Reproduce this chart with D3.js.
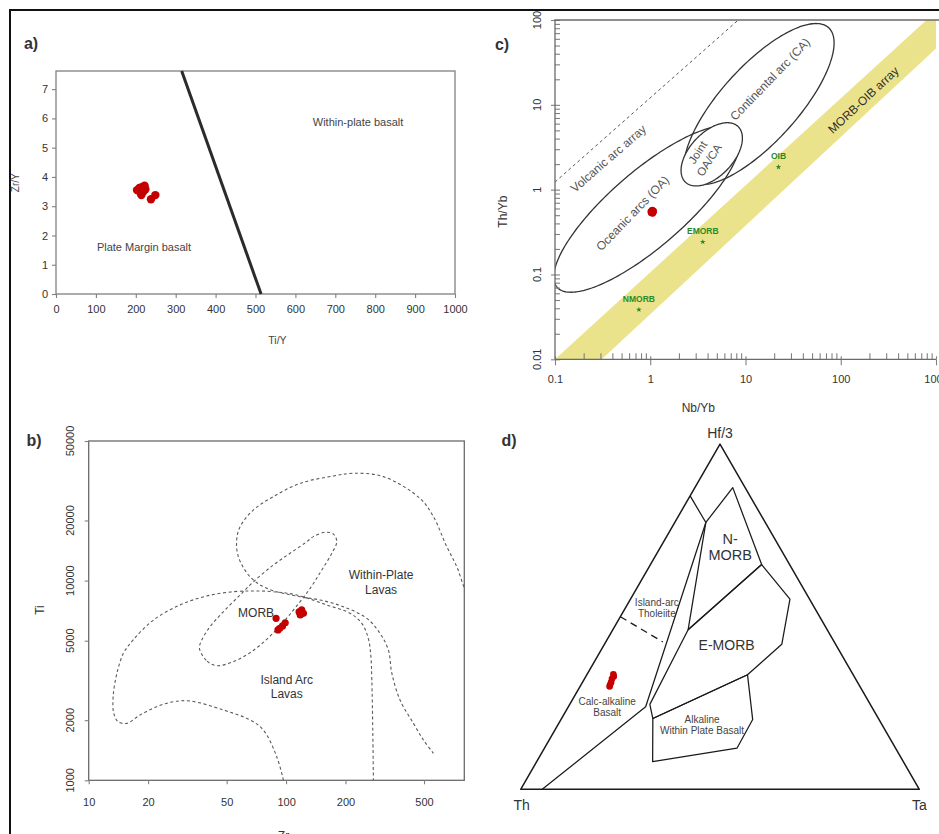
<!DOCTYPE html>
<html>
<head>
<meta charset="utf-8">
<script src="https://cdn.jsdelivr.net/npm/d3@7/dist/d3.min.js"></script>
<style>
  body { margin: 0; background: #fff; }
  svg { display: block; }
  text { font-family: "Liberation Sans", Arial, Helvetica, sans-serif; }
</style>
</head>
<body>
<svg id="fig" width="939" height="834"></svg>
<script>
// ================= data =================

// a) Ti/Y vs Zr/Y discrimination
const aTiYTicks = [0, 100, 200, 300, 400, 500, 600, 700, 800, 900, 1000];
const aZrYTicks = [0, 1, 2, 3, 4, 5, 6, 7];
const aBoundary = [[315, 7.62], [514, 0]];               // [Ti/Y, Zr/Y]
const aSampleTiY = [203, 209, 216, 222, 224, 212, 219, 214, 238, 249];
const aSampleZrY = [3.55, 3.62, 3.66, 3.70, 3.58, 3.45, 3.50, 3.38, 3.24, 3.38];

// b) Zr vs Ti (log-log)
const bZrTicks = [10, 20, 50, 100, 200, 500];
const bTiTicks = [1000, 2000, 5000, 10000, 20000, 50000];
const bWithinPlate = [                                      // [Zr, Ti]
  [850, 8300], [802, 9150], [733, 11740], [652, 14780], [558, 20900], [477, 25800],
  [311, 33150], [219, 34450], [174, 33400], [118, 30700], [86, 26300], [68.2, 22550],
  [58.5, 18620], [56.2, 15960], [57.3, 13180], [65.7, 10450], [79.8, 9150],
  [117.8, 8300], [148.7, 8000], [195, 7400], [256.5, 6470], [299, 5450], [330, 4490],
  [343.5, 3436], [378, 2523], [442, 1928], [496.5, 1592], [558, 1365]
];
const bIslandArc = [
  [97, 1000], [89.7, 1313], [76.7, 1786], [65.7, 2004], [48.1, 2250], [32.6, 2495],
  [26.9, 2475], [22.1, 2337], [18.2, 2123], [15.6, 1928], [14.1, 1965], [13.4, 2163],
  [13.3, 2624], [13.9, 3436], [15.0, 4325], [16.8, 5045], [21.3, 6350], [29.0, 7550],
  [39.6, 8370], [54.1, 8800], [68.3, 8870], [86.2, 8800], [113.3, 8470], [160.8, 7550],
  [211, 6860], [242, 6110], [261, 5140], [269, 4160], [272, 3180], [275, 1786], [277, 1000]
];
const bMorb = [
  [36.4, 4580], [39.8, 3950], [44.5, 3750], [54.1, 3926], [65.7, 4355], [79.8, 5080],
  [95.1, 6070], [113.3, 7470], [132.4, 9140], [151.7, 11300], [170.6, 13700],
  [180.7, 15660], [173.8, 17100], [157.8, 17460], [137.5, 16600], [127.4, 15660],
  [104.8, 13700], [86.2, 11970], [68.3, 9860], [58.5, 8470], [48.1, 6980],
  [41.2, 5880], [37.4, 5040]
];
const bSampleZr = [89, 99, 96, 93, 91, 118, 120, 122.5, 116.4];
const bSampleTi = [6470, 6150, 5930, 5770, 5660, 6730, 7130, 6860, 6970];

// c) Nb/Yb vs Th/Yb (log-log)
const cXTicks = [0.1, 1, 10, 100, 1000];
const cXLabels = ["0.1", "1", "10", "100", "1000"];
const cYTicks = [0.01, 0.1, 1, 10, 100];
const cYLabels = ["0.01", "0.1", "1", "10", "100"];
const cMorbOibArray = [[0.1, 0.01], [795, 100], [1000, 100], [1000, 46], [0.31, 0.01]];
const cVolcanicArc = [[0.1, 1.23], [8.4, 100]];
// fields as ellipses in log space: centre [Nb/Yb, Th/Yb], semi-axes in decades, rotation in degrees
const cOceanicArcs = { centre: [0.925, 0.589], a: 1.32, b: 0.42, angle: 45 };
const cContinentalArc = { centre: [13.9, 10.2], a: 1.16, b: 0.42, angle: 52 };
const cJointField = { centre: [4.42, 2.61], a: 0.43, b: 0.24, angle: 53 };
const cRefNames = ["NMORB", "EMORB", "OIB"];
const cRefNbYb = [0.76, 3.56, 22.2];
const cRefThYb = [0.0385, 0.242, 1.85];
const cSampleNbYb = [1.02, 1.05, 1.08, 1.06, 1.03, 1.07];
const cSampleThYb = [0.55, 0.57, 0.56, 0.53, 0.535, 0.545];

// d) Th - Hf/3 - Ta ternary, components [Th, Hf/3, Ta]
const dNmorbField = [[14.9, 77.3, 7.8], [3.1, 87.4, 9.5], [7.0, 65.1, 27.9], [34.9, 46.2, 18.9], [14.9, 77.3, 7.8]];
const dEmorbField = [[34.9, 46.2, 18.9], [7.0, 65.1, 27.9], [4.9, 55.1, 40.0], [13.5, 42.0, 44.5],
                     [26.5, 33.2, 40.3], [56.6, 20.5, 22.9], [55.3, 24.6, 20.1], [34.9, 46.2, 18.9]];
const dAlkalineField = [[56.6, 20.5, 22.9], [26.5, 33.2, 40.3], [31.7, 20.2, 48.1], [39.8, 11.9, 48.3],
                        [62.9, 8.0, 29.1], [56.6, 20.5, 22.9]];
const dArcBoundary = [[15, 85, 0], [14.9, 77.3, 7.8], [56.7, 23.9, 19.4], [94.6, 0, 5.4]];
const dIatCabDivide = [[50, 50, 0], [43, 42.7, 14.3]];
const dSamples = [[60.1, 33.3, 6.6], [60.3, 32.7, 7.0], [61.1, 32.0, 6.9], [61.9, 31.0, 7.2],
                  [62.5, 30.2, 7.3], [62.8, 29.8, 7.4]];

// ================= drawing =================
const svg = d3.select("#fig");
const INK = "#333";
const GREY = "#555";
const AXIS = "#808080";
const RED = "#c40000";

function styleAxis(g, size) {
  g.selectAll(".domain").remove();
  g.selectAll(".tick line").attr("stroke", AXIS).attr("stroke-width", 1.1);
  g.selectAll(".tick text").attr("fill", INK).style("font-size", (size || 11) + "px")
    .style("font-family", '"Liberation Sans", Arial, sans-serif');
}

function label(g, px, py, lines, opt) {
  const t = g.append("text")
    .attr("transform", `translate(${px},${py}) rotate(${opt.rotate || 0})`)
    .attr("text-anchor", opt.anchor || "middle")
    .attr("fill", opt.color || INK)
    .style("font-size", opt.size + "px")
    .style("font-weight", opt.weight || "normal");
  const n = lines.length, sp = opt.spacing || opt.size * 1.2;
  lines.forEach((s, i) => t.append("tspan").attr("x", 0)
    .attr("y", (i - (n - 1) / 2) * sp).attr("dy", "0.35em").text(s));
  return t;
}

// outer frame of the figure
svg.append("path").attr("d", "M10,834V10H939").attr("fill", "none")
  .attr("stroke", "#111").attr("stroke-width", 2);

// ---------- a) ----------
{
  const x = d3.scaleLinear().domain([0, 1000]).range([56, 455]);
  const y = d3.scaleLinear().domain([0, 7.62]).range([294, 71]);
  const g = svg.append("g");
  g.append("rect").attr("x", x(0)).attr("y", y(7.62)).attr("width", x(1000) - x(0))
    .attr("height", y(0) - y(7.62)).attr("fill", "none").attr("stroke", AXIS).attr("stroke-width", 1.3);
  g.append("g").attr("transform", `translate(0,${y(0)})`)
    .call(d3.axisBottom(x).tickValues(aTiYTicks).tickSize(4).tickPadding(7).tickFormat(d3.format("d")))
    .call(styleAxis);
  g.append("g").attr("transform", `translate(${x(0)},0)`)
    .call(d3.axisLeft(y).tickValues(aZrYTicks).tickSize(4).tickPadding(4)).call(styleAxis);
  g.append("line")
    .attr("x1", x(aBoundary[0][0])).attr("y1", y(aBoundary[0][1]))
    .attr("x2", x(aBoundary[1][0])).attr("y2", y(aBoundary[1][1]))
    .attr("stroke", "#2b2b2b").attr("stroke-width", 3);
  g.selectAll("circle.s").data(aSampleTiY).join("circle")
    .attr("cx", d => x(d)).attr("cy", (d, i) => y(aSampleZrY[i])).attr("r", 4.2).attr("fill", RED);
  label(g, x(757), y(5.88), ["Within-plate basalt"], { size: 11, color: "#444" });
  label(g, x(220.5), y(1.61), ["Plate Margin basalt"], { size: 11, color: "#444" });
  label(g, x(555), 340, ["Ti/Y"], { size: 10.5, color: "#444" });
  label(g, 15, y(3.8), ["Zr/Y"], { size: 10, color: "#444", rotate: -90 });
  label(g, 31, 43, ["a)"], { size: 16, weight: "bold" });
}

// ---------- b) ----------
{
  const x = d3.scaleLog().domain([10, 800]).range([88.7, 464.3]);
  const y = d3.scaleLog().domain([1000, 50000]).range([780.3, 441]);
  const g = svg.append("g");
  svg.append("clipPath").attr("id", "clipB").append("rect")
    .attr("x", x(10)).attr("y", y(50000)).attr("width", x(800) - x(10)).attr("height", y(1000) - y(50000));
  g.append("rect").attr("x", x(10)).attr("y", y(50000)).attr("width", x(800) - x(10))
    .attr("height", y(1000) - y(50000)).attr("fill", "none").attr("stroke", "#6a6a6a").attr("stroke-width", 1.3);
  g.append("g").attr("transform", `translate(0,${y(1000)})`)
    .call(d3.axisBottom(x).tickValues(bZrTicks).tickSize(4).tickPadding(14).tickFormat(d3.format("d")))
    .call(styleAxis);
  g.append("g").attr("transform", `translate(${x(10)},0)`)
    .call(d3.axisLeft(y).tickValues(bTiTicks).tickSize(4).tickFormat(""))
    .call(styleAxis);
  bTiTicks.forEach(v => label(g, 70, y(v), [String(v)], { size: 11, rotate: -90 }));

  const line = d3.line().x(d => x(d[0])).y(d => y(d[1])).curve(d3.curveCatmullRom.alpha(0.5));
  const closed = d3.line().x(d => x(d[0])).y(d => y(d[1])).curve(d3.curveCatmullRomClosed.alpha(0.5));
  const fields = g.append("g").attr("clip-path", "url(#clipB)")
    .attr("fill", "none").attr("stroke", "#5a5a5a").attr("stroke-width", 1.1).attr("stroke-dasharray", "3,2.6");
  fields.append("path").attr("d", line(bWithinPlate));
  fields.append("path").attr("d", line(bIslandArc));
  fields.append("path").attr("d", closed(bMorb));

  label(g, x(303), y(9800), ["Within-Plate", "Lavas"], { size: 12, spacing: 14.5 });
  label(g, x(70.5), y(6900), ["MORB"], { size: 12 });
  label(g, x(100.8), y(2940), ["Island Arc", "Lavas"], { size: 12, spacing: 14.5 });

  g.selectAll("circle.s").data(bSampleZr).join("circle")
    .attr("cx", d => x(d)).attr("cy", (d, i) => y(bSampleTi[i])).attr("r", 3.6).attr("fill", RED);

  label(g, 40, 610, ["Ti"], { size: 12, rotate: -90 });
  label(g, x(97), 836, ["Zr"], { size: 12 });
  label(g, 34, 440, ["b)"], { size: 16, weight: "bold" });
}

// ---------- c) ----------
{
  const x = d3.scaleLog().domain([0.1, 1000]).range([555, 936]);
  const y = d3.scaleLog().domain([0.01, 100]).range([359.3, 20]);
  const g = svg.append("g");
  svg.append("clipPath").attr("id", "clipC").append("rect")
    .attr("x", x(0.1)).attr("y", y(100)).attr("width", x(1000) - x(0.1)).attr("height", y(0.01) - y(100));
  const plot = g.append("g").attr("clip-path", "url(#clipC)");

  const poly = d3.line().x(d => x(d[0])).y(d => y(d[1]));
  plot.append("path").attr("d", poly(cMorbOibArray) + "Z").attr("fill", "#ebe38c");
  plot.append("path").attr("d", poly(cVolcanicArc)).attr("fill", "none")
    .attr("stroke", "#555").attr("stroke-width", 1).attr("stroke-dasharray", "3,3");

  function ellipse(e) {
    const cu = Math.log10(e.centre[0]), cv = Math.log10(e.centre[1]);
    const th = e.angle * Math.PI / 180, pts = [];
    for (let k = 0; k < 180; k++) {
      const t = 2 * Math.PI * k / 180;
      const u = cu + e.a * Math.cos(t) * Math.cos(th) - e.b * Math.sin(t) * Math.sin(th);
      const v = cv + e.a * Math.cos(t) * Math.sin(th) + e.b * Math.sin(t) * Math.cos(th);
      pts.push([Math.pow(10, u), Math.pow(10, v)]);
    }
    return poly(pts) + "Z";
  }
  [cOceanicArcs, cContinentalArc].forEach(e =>
    plot.append("path").attr("d", ellipse(e)).attr("fill", "none")
      .attr("stroke", "#333").attr("stroke-width", 1.3));
  plot.append("path").attr("d", ellipse(cJointField)).attr("fill", "#fff")
    .attr("stroke", "#333").attr("stroke-width", 1.3);

  label(plot, x(0.363), y(2.33), ["Volcanic arc array"], { size: 12, rotate: -41, color: GREY });
  label(plot, x(0.652), y(0.528), ["Oceanic arcs (OA)"], { size: 12, rotate: -46, color: GREY });
  label(plot, x(18.1), y(20.1), ["Continental arc (CA)"], { size: 12, rotate: -46, color: GREY });
  label(plot, x(3.15), y(2.75), ["Joint"], { size: 11.5, rotate: -57, color: GREY });
  label(plot, x(4.14), y(2.23), ["OA/CA"], { size: 11.5, rotate: -57, color: GREY });
  label(plot, x(172.6), y(11.4), ["MORB-OIB array"], { size: 12, rotate: -43, color: "#2e2e2e" });

  const star = d3.symbol().type(d3.symbolStar).size(10);
  cRefNames.forEach((n, i) => {
    plot.append("path").attr("d", star)
      .attr("transform", `translate(${x(cRefNbYb[i])},${y(cRefThYb[i])})`).attr("fill", "#2a8a2a");
    label(plot, x(cRefNbYb[i]), y(cRefThYb[i]) - 11, [n], { size: 8.5, weight: "bold", color: "#2a8a2a" });
  });
  plot.selectAll("circle.s").data(cSampleNbYb).join("circle")
    .attr("cx", d => x(d)).attr("cy", (d, i) => y(cSampleThYb[i])).attr("r", 3.6).attr("fill", RED);

  // axes: major ticks cross the axis line, minor ticks point inward
  const minorX = [], minorY = [];
  [0.1, 1, 10, 100].forEach(dec => [2, 3, 4, 5, 6, 7, 8, 9].forEach(m => minorX.push(dec * m)));
  [0.01, 0.1, 1, 10].forEach(dec => [2, 3, 4, 5, 6, 7, 8, 9].forEach(m => minorY.push(dec * m)));
  const bx = g.append("g").attr("transform", `translate(0,${y(0.01)})`);
  bx.append("g").call(d3.axisBottom(x).tickValues(cXTicks).tickSize(6).tickPadding(10)
    .tickFormat((d, i) => cXLabels[i])).call(styleAxis);
  bx.append("g").call(d3.axisBottom(x).tickValues(cXTicks).tickSize(-3).tickFormat("")).call(styleAxis);
  bx.append("g").call(d3.axisBottom(x).tickValues(minorX).tickSize(-6).tickFormat("")).call(styleAxis);
  const ly = g.append("g").attr("transform", `translate(${x(0.1)},0)`);
  ly.append("g").call(d3.axisLeft(y).tickValues(cYTicks).tickSize(4).tickFormat("")).call(styleAxis);
  ly.append("g").call(d3.axisLeft(y).tickValues(cYTicks).tickSize(-5).tickFormat("")).call(styleAxis);
  ly.append("g").call(d3.axisLeft(y).tickValues(minorY).tickSize(-5).tickFormat("")).call(styleAxis);
  cYTicks.forEach((v, i) => label(g, 537.5, y(v), [cYLabels[i]], { size: 11, rotate: -90 }));
  g.append("path")
    .attr("d", `M${x(0.1)},${y(0.01)}H${x(1000)}M${x(0.1)},${y(0.01)}V${y(100)}H939`)
    .attr("fill", "none").attr("stroke", "#6a6a6a").attr("stroke-width", 1.3);

  label(g, x(3.2), 408, ["Nb/Yb"], { size: 12 });
  label(g, 503, y(0.55), ["Th/Yb"], { size: 12, rotate: -90 });
  label(g, 502, 44, ["c)"], { size: 16, weight: "bold" });
}

// ---------- d) ----------
{
  const side = 398.6, h = Math.sqrt(3) / 2;
  const tx = d3.scaleLinear().domain([0, 1]).range([520.7, 520.7 + side]);
  const ty = d3.scaleLinear().domain([0, h]).range([789.3, 789.3 - side * h]);
  const tern = p => {
    const s = p[0] + p[1] + p[2], hf = p[1] / s, ta = p[2] / s;
    return [tx(ta + hf / 2), ty(hf * h)];
  };
  const line = d3.line().x(d => tern(d)[0]).y(d => tern(d)[1]);
  const g = svg.append("g").attr("fill", "none").attr("stroke", "#1a1a1a").attr("stroke-linejoin", "round");

  g.append("path").attr("d", line([[100, 0, 0], [0, 100, 0], [0, 0, 100]]) + "Z").attr("stroke-width", 1.5);
  [dNmorbField, dEmorbField, dAlkalineField, dArcBoundary].forEach(f =>
    g.append("path").attr("d", line(f)).attr("stroke-width", 1.25));
  g.append("path").attr("d", line(dIatCabDivide)).attr("stroke-width", 1.3).attr("stroke-dasharray", "7,5");

  const lab = svg.append("g");
  const [hx, hy] = tern([0, 100, 0]), [thx, thy] = tern([100, 0, 0]), [tax, tay] = tern([0, 0, 100]);
  label(lab, hx, hy - 11, ["Hf/3"], { size: 14 });
  label(lab, thx + 1, thy + 16, ["Th"], { size: 14 });
  label(lab, tax, tay + 16, ["Ta"], { size: 14 });
  const at = (p, lines, opt) => { const q = tern(p); label(lab, q[0], q[1], lines, opt); };
  at([12.3, 70.3, 17.4], ["N-", "MORB"], { size: 14.5, spacing: 16 });
  at([27.5, 41.7, 30.8], ["E-MORB"], { size: 14 });
  at([39.6, 52.5, 7.9], ["Island-arc", "Tholeiite"], { size: 10, spacing: 11.7, color: "#444" });
  at([66.4, 23.8, 9.8], ["Calc-alkaline", "Basalt"], { size: 10, spacing: 11.6, color: "#444" });
  at([45.2, 18.6, 36.2], ["Alkaline", "Within Plate Basalt"], { size: 10, spacing: 11, color: "#444" });

  svg.append("g").selectAll("circle").data(dSamples).join("circle")
    .attr("cx", d => tern(d)[0]).attr("cy", d => tern(d)[1]).attr("r", 3.3).attr("fill", RED);
  label(lab, 509, 440, ["d)"], { size: 16, weight: "bold" });
}
</script>
</body>
</html>
